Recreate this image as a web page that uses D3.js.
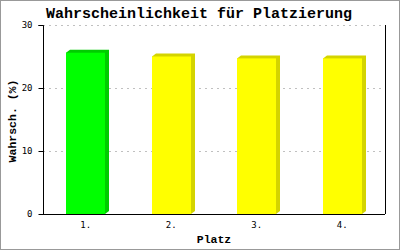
<!DOCTYPE html>
<html>
<head>
<meta charset="utf-8">
<script src="https://cdn.jsdelivr.net/npm/d3@7"></script>
<style>
	body { margin: 0; background: #fff; }
	svg { display: block; }
</style>
</head>
<body>
<div id="chart"></div>
<script>

var places = ["1.", "2.", "3.", "4."];
var probs = [25.6, 25.0, 24.7, 24.7];
var colors = ["#00ff00", "#ffff00", "#ffff00", "#ffff00"];
var sideColors = ["#00cc00", "#d4d400", "#d4d400", "#d4d400"];
var yTicks = [0, 10, 20, 30];

const W = 400, H = 250;
const margin = { top: 25, right: 15, bottom: 36, left: 43 };

var svg = d3.select("#chart").append("svg")
	.attr("width", W)
	.attr("height", H);

svg.append("rect")
	.attr("x", 0).attr("y", 0)
	.attr("width", W).attr("height", H)
	.attr("fill", "#fff")
	.attr("stroke", "#999")
	.attr("stroke-width", 2);

var x = d3.scaleBand(places, [margin.left, W - margin.right]).padding(0);
var y = d3.scaleLinear([0, 30], [H - margin.bottom, margin.top]);

// grid
svg.append("g")
	.selectAll("line")
	.data(yTicks.filter(d => d > 0))
	.join("line")
	.attr("x1", margin.left)
	.attr("x2", W - margin.right)
	.attr("y1", d => y(d) + 0.5)
	.attr("y2", d => y(d) + 0.5)
	.attr("stroke", "#c0c0c0")
	.attr("stroke-dasharray", "2,4");

// bars (front + darker top/side)
const bw = Math.round(x.bandwidth() * 0.456), dx = 4, dy = 3;

var bars = svg.append("g")
	.selectAll("g")
	.data(places)
	.join("g");

bars.append("path")
	.attr("fill", (d, i) => sideColors[i])
	.attr("d", (d, i) => {
		var x0 = Math.round(x(d) + x.bandwidth() / 2 - bw / 2 - 0.25), x1 = x0 + bw;
		var yt = y(probs[i]), yb = y(0);
		return `M${x0},${yt}L${x0 + dx},${yt - dy}L${x1 + dx},${yt - dy}L${x1 + dx},${yb - dy}L${x1},${yb}Z`;
	});

bars.append("rect")
	.attr("fill", (d, i) => colors[i])
	.attr("x", d => Math.round(x(d) + x.bandwidth() / 2 - bw / 2 - 0.25))
	.attr("y", (d, i) => y(probs[i]))
	.attr("width", bw)
	.attr("height", (d, i) => y(0) - y(probs[i]));

// frame lines
svg.append("line")
	.attr("x1", W - margin.right + 0.5).attr("x2", W - margin.right + 0.5)
	.attr("y1", margin.top).attr("y2", H - margin.bottom)
	.attr("stroke", "#000");

var yaxis = d3.axisLeft(y).tickValues(yTicks).tickSize(5).tickPadding(6);
var xaxis = d3.axisBottom(x).tickSize(0).tickPadding(7);

svg.append("g")
	.attr("transform", `translate(${margin.left + 0.5},0)`)
	.call(yaxis)
	.call(g => g.select(".domain").attr("d", `M-5,${margin.top + 0.5}H0V${H - margin.bottom + 0.5}`));

svg.append("g")
	.attr("transform", `translate(0,${H - margin.bottom + 0.5})`)
	.call(xaxis)
	.call(g => g.select(".domain").attr("d", `M${margin.left},0H${W - margin.right}`));

svg.selectAll(".tick text")
	.attr("font-family", "DejaVu Sans Mono")
	.attr("font-size", 9)
	.attr("fill", "#000");
svg.selectAll(".domain, .tick line").attr("stroke", "#000");

// titles
svg.append("text")
	.attr("x", 199).attr("y", 18)
	.attr("text-anchor", "middle")
	.attr("font-family", "Liberation Mono")
	.attr("font-weight", "bold")
	.attr("font-size", 15)
	.text("Wahrscheinlichkeit für Platzierung");

svg.append("text")
	.attr("x", 214).attr("y", 243)
	.attr("text-anchor", "middle")
	.attr("font-family", "Liberation Mono")
	.attr("font-weight", "bold")
	.attr("font-size", 11.5)
	.text("Platz");

svg.append("text")
	.attr("transform", "translate(16,121) rotate(-90)")
	.attr("text-anchor", "middle")
	.attr("font-family", "Liberation Mono")
	.attr("font-weight", "bold")
	.attr("font-size", 11.5)
	.text("Wahrsch. (%)");

</script>
</body>
</html>
